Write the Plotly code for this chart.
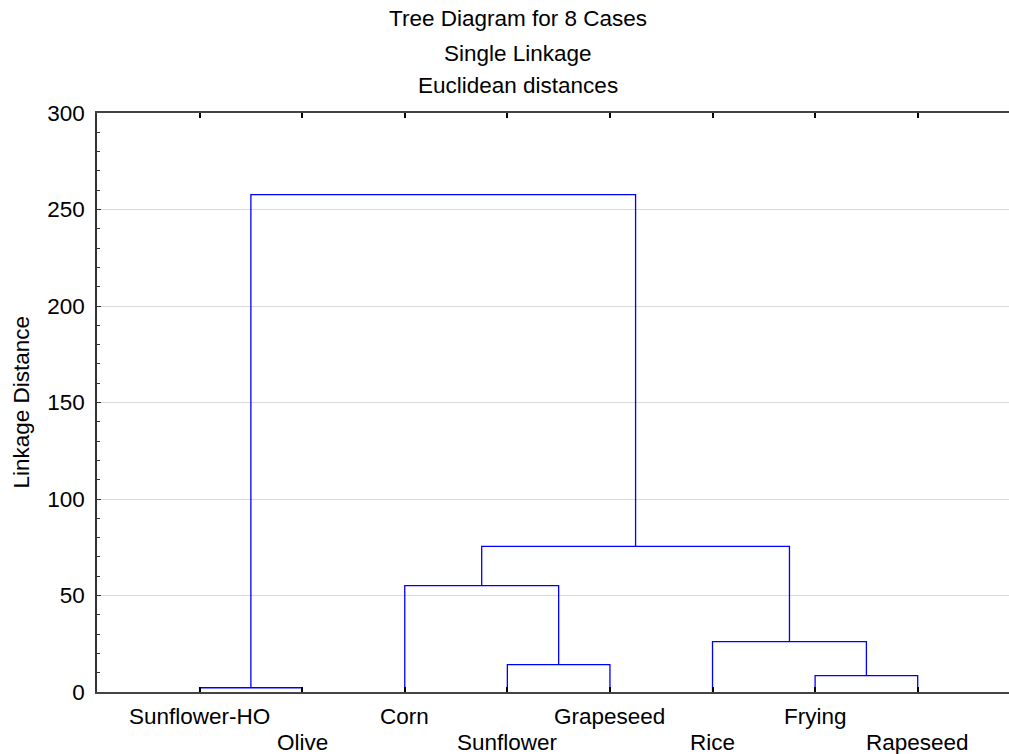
import plotly.graph_objects as go

# ---- data ----
leaf_labels = ["Sunflower-HO", "Olive", "Corn", "Sunflower", "Grapeseed", "Rice", "Frying", "Rapeseed"]
# merges (scipy-like indexing: leaves 0..7, new clusters 8..)
merge_left = [0, 3, 6, 5, 2, 12, 8]
merge_right = [1, 4, 7, 10, 9, 11, 13]
merge_height = [2.2, 14.2, 8.5, 26.1, 55.1, 75.5, 257.7]
title_lines = ["Tree Diagram for 8 Cases", "Single Linkage", "Euclidean distances"]
y_ticks = [0, 50, 100, 150, 200, 250, 300]

FONT = "Liberation Sans, Arial, sans-serif"
FS = 22.5

n = len(leaf_labels)
xpos = {i: i + 1 for i in range(n)}
hpos = {i: 0.0 for i in range(n)}
xs, ys = [], []
for k, (a, b, h) in enumerate(zip(merge_left, merge_right, merge_height)):
    xa, xb = xpos[a], xpos[b]
    xs += [xa, xa, xb, xb, None]
    ys += [hpos[a], h, h, hpos[b], None]
    cid = n + k
    xpos[cid] = (xa + xb) / 2
    hpos[cid] = h

fig = go.Figure()
fig.add_trace(go.Scatter(x=xs, y=ys, mode="lines",
                         line=dict(color="#0000ff", width=1.3),
                         hoverinfo="skip", showlegend=False))

annotations = []
# title lines
title_y = [1.1628, 1.1019, 1.0475]
for t, yy in zip(title_lines, title_y):
    annotations.append(dict(text=t, xref="paper", yref="paper", x=0.4616, y=yy,
                            xanchor="center", yanchor="middle", showarrow=False,
                            font=dict(family=FONT, size=FS, color="black")))
# leaf labels (staggered)
for i, lab in enumerate(leaf_labels):
    annotations.append(dict(text=lab, xref="x", yref="paper", x=i + 1,
                            y=-0.0425 if i % 2 == 0 else -0.0864,
                            xanchor="center", yanchor="middle", showarrow=False,
                            font=dict(family=FONT, size=FS, color="black")))
# y axis title
annotations.append(dict(text="Linkage Distance", xref="paper", yref="paper",
                        x=-0.0833, y=0.5, textangle=-90, xanchor="center", yanchor="middle",
                        showarrow=False, font=dict(family=FONT, size=FS, color="black")))

fig.update_layout(
    width=1009, height=754,
    margin=dict(l=97, r=0, t=113, b=62),
    paper_bgcolor="white", plot_bgcolor="white",
    font=dict(family=FONT, size=FS, color="black"),
    annotations=annotations,
    xaxis=dict(range=[0, 8.89], tickvals=list(range(1, n + 1)), showticklabels=False,
               ticks="inside", ticklen=5, tickwidth=1.5, tickcolor="black",
               showline=True, linecolor="#444444", linewidth=1.5, mirror="ticks",
               showgrid=False, zeroline=False, fixedrange=True),
    yaxis=dict(range=[0, 300], tickvals=y_ticks, ticks="inside", ticklen=4,
               tickcolor="#333333", tickwidth=1,
               showline=True, linecolor="#333333", linewidth=1.5,
               showgrid=True, gridcolor="#d9d9d9", gridwidth=1, zeroline=False,
               ticklabelstandoff=6,
               tickfont=dict(family=FONT, size=FS, color="black"),
               minor=dict(dtick=10, ticks="inside", ticklen=3, tickcolor="#333333", showgrid=False),
               fixedrange=True),
)

# remove the default page margin so the figure fills the 1009x754 window exactly
fig.write_html("out.html", config={"displayModeBar": False},
               post_script="document.body.style.margin='0';document.body.style.overflow='hidden';")
